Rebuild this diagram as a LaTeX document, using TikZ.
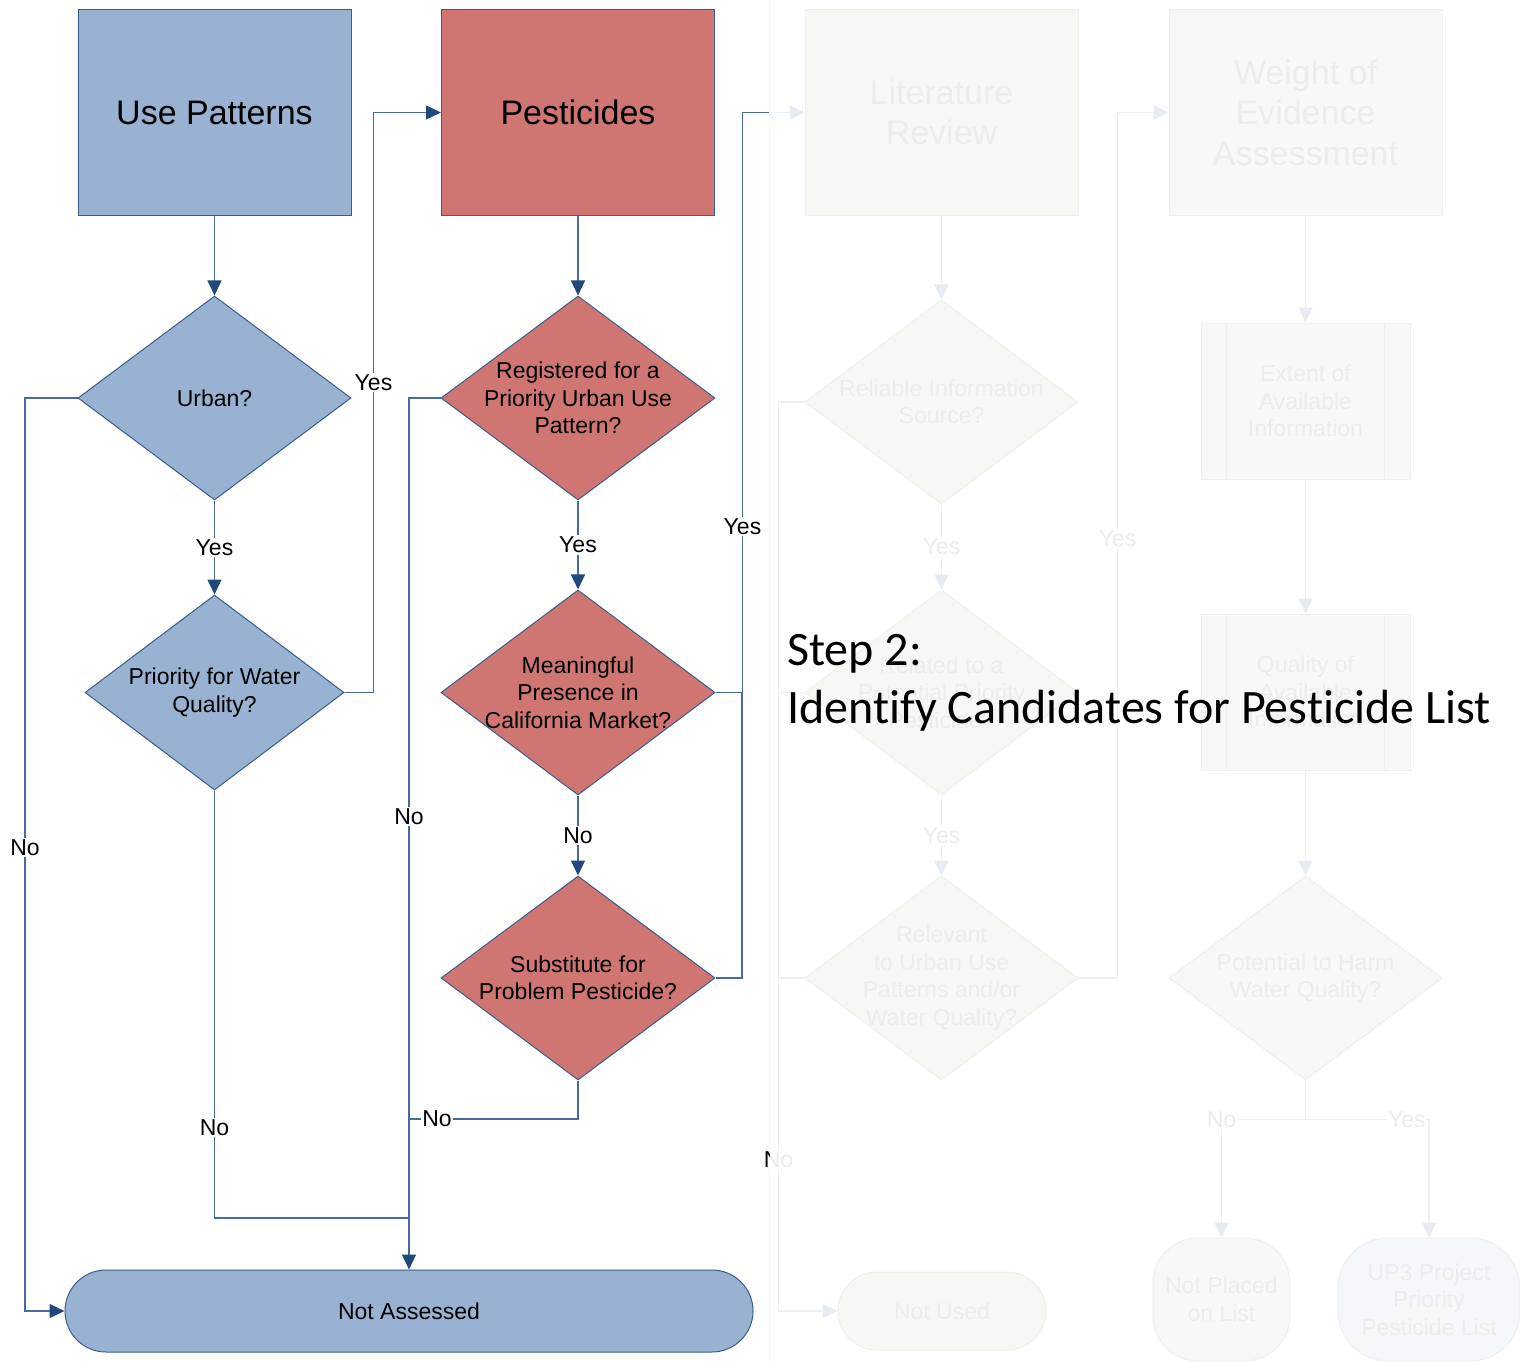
\documentclass[tikz,border=0pt]{standalone}
\usepackage{fontspec}
\setmainfont{Liberation Sans}
\newfontfamily\stepfont[Ligatures=NoCommon]{Carlito}
\usetikzlibrary{shapes.geometric,arrows.meta}
\definecolor{bfill}{RGB}{153,178,209}
\definecolor{rfill}{RGB}{207,118,115}
\definecolor{sborder}{RGB}{56,93,138}
\definecolor{cline}{RGB}{70,106,154}
\definecolor{chead}{RGB}{31,73,125}
\definecolor{ftext}{RGB}{236,236,236}
\definecolor{fline}{RGB}{236,240,244}
\definecolor{fhead}{RGB}{231,236,242}
\definecolor{gfill}{RGB}{247,248,244}
\definecolor{gborder}{RGB}{238,241,234}
\definecolor{pfill}{RGB}{248,248,250}
\definecolor{pborder}{RGB}{238,239,243}
\definecolor{nfill}{RGB}{248,248,248}
\definecolor{ufill}{RGB}{244,248,250}
\definecolor{edgegray}{RGB}{247,247,247}
\tikzset{
  bigtxt/.style={font=\fontsize{34}{40.5}\selectfont, align=center},
  smtxt/.style={font=\fontsize{23}{27.5}\selectfont, align=center},
  topbox/.style={rectangle, line width=1pt, minimum width=273pt, minimum height=205pt, inner sep=0pt, bigtxt},
  dia/.style={diamond, line width=1pt, inner sep=0pt},
  conn/.style={draw=cline, line width=1.2pt, -{Triangle[length=15pt,width=14pt,color=chead,fill=chead]}},
  plain/.style={draw=cline, line width=1.2pt},
  fconn/.style={draw=fline, line width=1.2pt, -{Triangle[length=15pt,width=14pt,color=fhead,fill=fhead]}},
  fplain/.style={draw=fline, line width=1.2pt},
  lab/.style={fill=white, inner sep=1.5pt, font=\fontsize{23}{27.5}\selectfont, text=black},
  flab/.style={lab, text=ftext},
  steptxt/.style={anchor=base west, inner sep=0pt, font=\stepfont\fontsize{48}{58}\selectfont},
}
\begin{document}
\begin{tikzpicture}[x=1pt,y=-1pt]
\useasboundingbox (0,0) rectangle (1520,1362);
\fill[white] (0,0) rectangle (1520,1362);
\draw[edgegray, line width=1pt] (769,0) -- (769,1362);

% ---------- column 1 ----------
\node[topbox, fill=bfill, draw=sborder] (up) at (214.5,112.5) {Use Patterns};
\node[dia, fill=bfill, draw=sborder, minimum width=273pt, minimum height=204pt,
      label={[smtxt]center:Urban?}] (urban) at (214.5,398) {};
\node[dia, fill=bfill, draw=sborder, minimum width=259pt, minimum height=195pt,
      label={[smtxt]center:{Priority for Water\\Quality?}}] (prio) at (214.5,692.5) {};

% ---------- column 2 ----------
\node[topbox, fill=rfill, draw=sborder] (pest) at (578,112.5) {Pesticides};
\node[dia, fill=rfill, draw=sborder, minimum width=274pt, minimum height=204pt,
      label={[smtxt]center:{Registered for a\\Priority Urban Use\\Pattern?}}] (reg) at (578,398) {};
\node[dia, fill=rfill, draw=sborder, minimum width=274pt, minimum height=205pt,
      label={[smtxt]center:{Meaningful\\Presence in\\California Market?}}] (mean) at (578,692.5) {};
\node[dia, fill=rfill, draw=sborder, minimum width=274pt, minimum height=204pt,
      label={[smtxt]center:{Substitute for\\Problem Pesticide?}}] (subs) at (578,978) {};

\node[rectangle, rounded corners=41pt, fill=bfill, draw=sborder, line width=1pt,
      minimum width=688pt, minimum height=82pt, smtxt] (nass) at (409,1311) {Not Assessed};

\coordinate (jn1) at (409,1218);
\coordinate (jn2) at (409,1119);
\coordinate (jn3) at (742,692.5);
\coordinate (fedge) at (769,112.5);

% connectors column 1
\draw[conn] (up) -- (urban);
\draw[conn] (urban) -- node[lab]{Yes} (prio);
\draw[conn] (prio.east) -- ++(29,0) |- node[lab, pos=0.267]{Yes} (pest.west);
\draw[conn] (urban.west) -- ++(-52.5,0) |- node[lab, pos=0.246]{No} (nass.west);
\draw[plain] (prio.south) |- node[lab, pos=0.394]{No} (jn1);

% connectors column 2
\draw[conn] (pest) -- (reg);
\draw[conn] (reg) -- node[lab]{Yes} (mean);
\draw[conn] (mean) -- node[lab]{No} (subs);
\draw[conn] (reg.west) -| node[lab, pos=0.74]{No} (nass.north);
\draw[plain] (subs.south) |- node[lab, pos=0.917]{No} (jn2);
\draw[plain] (mean.east) -- ++(27,0) |- node[lab, pos=0.143]{Yes} (fedge);
\draw[plain] (subs.east) -| (jn3);

% ---------- column 3 (faded) ----------
\node[topbox, fill=gfill, draw=gborder, text=ftext] (lit) at (941.5,112.5) {Literature\\Review};
\node[dia, fill=gfill, draw=gborder, minimum width=273pt, minimum height=204pt,
      label={[smtxt, text=ftext]center:{Reliable Information\\Source?}}] (rel) at (941.5,402) {};
\node[dia, fill=gfill, draw=gborder, minimum width=273pt, minimum height=205pt,
      label={[smtxt, text=ftext]center:{Related to a\\Potential Priority\\Pesticide?}}] (relat) at (941.5,692.5) {};
\node[dia, fill=gfill, draw=gborder, minimum width=273pt, minimum height=204pt,
      label={[smtxt, text=ftext]center:{Relevant\\to Urban Use\\Patterns and/or\\Water Quality?}}] (relev) at (941.5,978) {};
\node[rectangle, rounded corners=39pt, fill=gfill, draw=gborder, line width=1pt,
      minimum width=208pt, minimum height=78pt, smtxt, text=ftext] (notused) at (942,1311) {Not Used};

% ---------- column 4 (faded) ----------
\node[topbox, fill=pfill, draw=pborder, text=ftext] (woe) at (1305.5,112.5) {Weight of\\Evidence\\Assessment};
\node[rectangle, fill=pfill, draw=pborder, line width=1pt, minimum width=209pt, minimum height=156pt,
      smtxt, text=ftext] (extent) at (1305.5,401) {Extent of\\Available\\Information};
\draw[pborder, line width=1pt] ([xshift=26pt]extent.north west) -- ([xshift=26pt]extent.south west);
\draw[pborder, line width=1pt] ([xshift=-26pt]extent.north east) -- ([xshift=-26pt]extent.south east);
\node[rectangle, fill=pfill, draw=pborder, line width=1pt, minimum width=209pt, minimum height=156pt,
      smtxt, text=ftext] (quality) at (1305.5,692) {Quality of\\Available\\Information};
\draw[pborder, line width=1pt] ([xshift=26pt]quality.north west) -- ([xshift=26pt]quality.south west);
\draw[pborder, line width=1pt] ([xshift=-26pt]quality.north east) -- ([xshift=-26pt]quality.south east);
\node[dia, fill=pfill, draw=pborder, minimum width=273pt, minimum height=204pt,
      label={[smtxt, text=ftext]center:{Potential to Harm\\Water Quality?}}] (harm) at (1305.5,978) {};
\node[rectangle, rounded corners=45pt, fill=nfill, draw=pborder, line width=1pt,
      minimum width=137pt, minimum height=123pt, smtxt, text=ftext] (notplaced) at (1221.5,1299.5) {Not Placed\\on List};
\node[rectangle, rounded corners=50pt, fill=ufill, draw=pborder, line width=1pt,
      minimum width=182pt, minimum height=123pt, smtxt, text=ftext] (up3) at (1429,1299.5) {UP3 Project\\Priority\\Pesticide List};

% faded connectors
\draw[fconn] (fedge) -- (lit.west);
\draw[fconn] (lit) -- (rel);
\draw[fconn] (rel) -- node[flab]{Yes} (relat);
\draw[fconn] (relat) -- node[flab]{Yes} (relev);
\draw[fconn] (rel.west) -- ++(-26,0) |- node[flab, pos=0.417] (nolab) {No} (notused.west);
\draw[fplain] (relat.west) -- ++(-26,0);
\draw[fplain] (relev.west) -- ++(-26,0);
\draw[fconn] (relev.east) -- ++(39,0) |- node[flab, pos=0.254]{Yes} (woe.west);
\draw[fconn] (woe) -- (extent);
\draw[fconn] (extent) -- (quality);
\draw[fconn] (quality) -- (harm);
\draw[fconn] (harm.south) -- ++(0,39) -| node[flab, pos=0.5]{No} (notplaced.north);
\draw[fconn] (harm.south) -- ++(0,39) -| node[flab, pos=0.41]{Yes} (up3.north);

% partly unfaded label letter at the overlay edge
\begin{scope}
\clip (0,0) rectangle (769,1362);
\node[lab, fill=none] (nolabdark) at (nolab) {No};
\end{scope}

% ---------- step title ----------
\node[steptxt] (step1) at (787,665) {Step 2:};
\node[steptxt] (step2) at (787,723) {Identify Candidates for Pesticide List};
\end{tikzpicture}
\end{document}
